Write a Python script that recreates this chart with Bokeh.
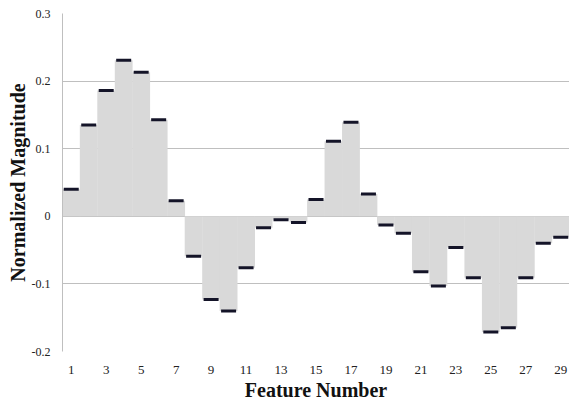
from bokeh.plotting import figure
from bokeh.models import FixedTicker, Range1d, ColumnDataSource
from bokeh.embed import file_html
from bokeh.resources import INLINE

features = list(range(1, 30))
magnitudes = [0.040, 0.135, 0.186, 0.231, 0.213, 0.143, 0.023, -0.059, -0.123, -0.140,
              -0.076, -0.017, -0.005, -0.009, 0.025, 0.111, 0.139, 0.033, -0.013, -0.025,
              -0.082, -0.103, -0.046, -0.091, -0.171, -0.165, -0.091, -0.040, -0.031]
x_ticks = list(range(1, 30, 2))
y_ticks = [-0.2, -0.1, 0.0, 0.1, 0.2, 0.3]
y_tick_labels = ["-0.2", "-0.1", "0", "0.1", "0.2", "0.3"]

src = ColumnDataSource(dict(x=features, y=magnitudes))

p = figure(width=569, height=403, output_backend="svg", toolbar_location=None,
           x_range=Range1d(0.5, 29.5), y_range=Range1d(-0.2, 0.3),
           min_border_left=62, min_border_right=0, min_border_top=13, min_border_bottom=5)
p.outline_line_color = None

font = "Liberation Serif"
p.xaxis.ticker = FixedTicker(ticks=x_ticks)
p.yaxis.ticker = FixedTicker(ticks=y_ticks)
p.yaxis.major_label_overrides = {t: l for t, l in zip(y_ticks, y_tick_labels)}

for ax in (p.xaxis[0], p.yaxis[0]):
    ax.major_tick_line_color = None
    ax.minor_tick_line_color = None
    ax.major_label_text_font = font
    ax.axis_label_text_font = font
    ax.axis_label_text_font_style = "bold"
    ax.axis_label_text_font_size = "20px"
    ax.major_label_text_color = "#222222"
    ax.axis_label_text_color = "#111111"

p.xaxis.axis_line_color = None
p.yaxis.axis_line_color = "#bfbfbf"
p.xaxis.major_label_text_font_size = "13px"
p.yaxis.major_label_text_font_size = "12px"
p.xaxis.major_label_standoff = 8
p.yaxis.major_label_standoff = 6
p.xaxis.axis_label = "Feature Number"
p.yaxis.axis_label = "Normalized Magnitude"
p.xaxis.axis_label_standoff = 2
p.yaxis.axis_label_standoff = 0

p.xgrid.grid_line_color = None
p.ygrid.grid_line_color = "#bfbfbf"
p.ygrid.grid_line_width = 1
p.ygrid.level = "underlay"

p.vbar(x="x", top="y", bottom=0, width=1.02, source=src,
       fill_color="#d9d9d9", line_color=None)
p.scatter(x="x", y="y", source=src, marker="dash", size=15,
          line_color="#141428", line_width=3)

open("out.html", "w").write(file_html(p, INLINE))
